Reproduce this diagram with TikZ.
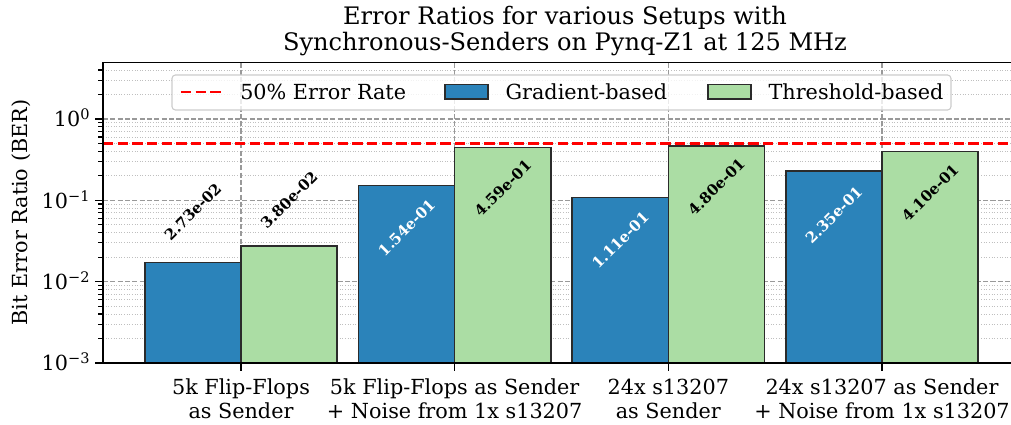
\documentclass[tikz,border=0pt]{standalone}
\usepackage{fontspec}
\setmainfont{DejaVu Serif}
\usetikzlibrary{positioning, calc}

\definecolor{gradblue}{HTML}{2B83BA}
\definecolor{threshgreen}{HTML}{ABDDA4}
\definecolor{edgegray}{HTML}{2B2B2B}

\begin{document}
\begin{tikzpicture}[
    x=0.254mm, y=-0.254mm,
    font=\fontsize{15}{17.3}\selectfont,
    barframe/.style={draw=edgegray, line width=1.1pt},
    majorgrid/.style={gray!80, line width=0.8pt, dash pattern=on 3.7pt off 1.6pt},
    minorgrid/.style={gray!50, line width=0.7pt, dash pattern=on 0.7pt off 1.2pt},
    rateline/.style={red, line width=2pt, dash pattern=on 7.4pt off 3.2pt},
    spine/.style={black, line width=1.1pt},
    barlabel/.style={rotate=45, inner sep=0pt, font=\fontsize{10.8}{13}\selectfont\bfseries},
    ticklabel/.style={anchor=base east, inner sep=0pt},
    legtext/.style={inner sep=0pt},
    legpatch/.style={draw=edgegray, line width=1.1pt, minimum width=31pt, minimum height=10.6pt, inner sep=0pt},
    ]

    \useasboundingbox (0,0) rectangle (1011,425);

    % one bar: name, centre x, value, fill, label, label shift, label colour
    \newcommand{\errbar}[7]{
        % log scale: 10^0 at y=119, 81.33 per decade
        \pgfmathsetmacro{\bartop}{119-81.33*log10(#3)}
        \draw[barframe, fill=#4] ({#2-48.1},\bartop) rectangle ({#2+48.1},363);
        \node[barlabel, text=#7] (lbl-#1) at (#2,{\bartop+(#6)}) {#5};
    }

    % ==========================================
    % Grid
    % ==========================================
    \foreach \e in {-3,-2,-1} {
        \foreach \m in {2,...,9} {
            \pgfmathsetmacro{\gy}{119-81.33*(\e+log10(\m))}
            \draw[minorgrid] (103,\gy) -- (1011,\gy);
            \draw[spine, line width=0.8pt] (98,\gy) -- (103,\gy);
        }
    }
    \foreach \m in {2,3,4} {
        \pgfmathsetmacro{\gy}{119-81.33*log10(\m)}
        \draw[minorgrid] (103,\gy) -- (1011,\gy);
        \draw[spine, line width=0.8pt] (98,\gy) -- (103,\gy);
    }
    \foreach \e in {0,-1,-2} {
        \draw[majorgrid] (103,{119-81.33*(\e)}) -- (1011,{119-81.33*(\e)});
    }
    \foreach \g in {0,...,3} {
        \draw[majorgrid] ({241+213.67*\g},62.5) -- ({241+213.67*\g},363);
    }

    % ==========================================
    % Bars
    % ==========================================
    \errbar{grad1}{192.9}{0.0168}{gradblue}{2.73e-02}{-51}{black}
    \errbar{thr1}{289.1}{0.0274}{threshgreen}{3.80e-02}{-46}{black}
    \errbar{grad2}{406.6}{0.150}{gradblue}{1.54e-01}{42}{white}
    \errbar{thr2}{502.8}{0.449}{threshgreen}{4.59e-01}{41}{black}
    \errbar{grad3}{620.3}{0.109}{gradblue}{1.11e-01}{43}{white}
    \errbar{thr3}{716.4}{0.469}{threshgreen}{4.80e-01}{41}{black}
    \errbar{grad4}{833.9}{0.229}{gradblue}{2.35e-01}{44}{white}
    \errbar{thr4}{930.1}{0.396}{threshgreen}{4.10e-01}{41}{black}

    % 50% line
    \coordinate (half-l) at (103,143.5);
    \coordinate (half-r) at (1011,143.5);
    \draw[rateline] (half-l) -- (half-r);

    % ==========================================
    % Axes and ticks
    % ==========================================
    \draw[spine] (1011,62.5) -- (103,62.5) -- (103,363) -- (1011,363);

    \foreach \e/\txt in {0/0, -1/−1, -2/−2, -3/−3} {
        \draw[spine, line width=0.8pt] (95,{119-81.33*(\e)}) -- (103,{119-81.33*(\e)});
        \node[ticklabel] (ytick\txt) at (90.5,{127-81.33*(\e)}) {10\textsuperscript{\txt}};
    }

    \foreach \g/\txt in {0/{5k Flip-Flops\\as Sender},
                         1/{5k Flip-Flops as Sender\\+ Noise from 1x s13207},
                         2/{24x s13207\\as Sender},
                         3/{24x s13207 as Sender\\+ Noise from 1x s13207}} {
        \draw[spine, line width=0.8pt] ({241+213.67*\g},363) -- ({241+213.67*\g},371);
        \node[anchor=north, align=center, inner sep=0pt] (xtick\g) at ({241+213.67*\g},378.5) {\txt};
    }

    \node[rotate=90, anchor=base, inner sep=0pt] (ylabel) at (27,212.5) {Bit Error Ratio (BER)};

    % ==========================================
    % Legend
    % ==========================================
    \draw[draw=gray!40, fill=white, fill opacity=0.8, rounded corners=2.5pt, line width=0.8pt]
        (172,75) rectangle (951,110);

    \coordinate (leg-rate-a) at (181,92);
    \coordinate (leg-rate-b) at (223,92);
    \draw[rateline] (leg-rate-a) -- (leg-rate-b);
    \node[legtext, right=12.3pt of leg-rate-b] (leg-rate) {50\% Error Rate};

    \node[legpatch, fill=gradblue] (leg-grad-patch) at (466.5,91.7) {};
    \node[legtext, right=12pt of leg-grad-patch] (leg-grad) {Gradient-based};

    \node[legpatch, fill=threshgreen] (leg-thr-patch) at (729.5,91.7) {};
    \node[legtext, right=12pt of leg-thr-patch] (leg-thr) {Threshold-based};

    % ==========================================
    % Title
    % ==========================================
    \node[anchor=north, align=center, inner sep=0pt, font=\fontsize{17.4}{19.4}\selectfont] (title) at (565,5.5)
        {Error Ratios for various Setups with\\Synchronous-Senders on Pynq-Z1 at 125 MHz};

\end{tikzpicture}
\end{document}
